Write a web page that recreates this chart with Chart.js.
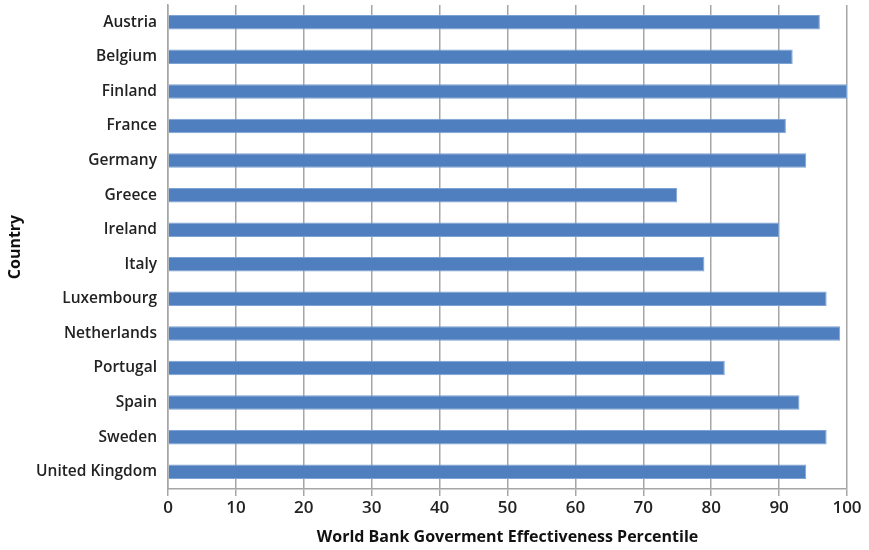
<!DOCTYPE html>
<html>
<head>
<meta charset="utf-8">
<script src="https://cdn.jsdelivr.net/npm/chart.js@4"></script>
<style>
  html, body { margin: 0; padding: 0; background: #ffffff; }
  #wrap { width: 869px; height: 550px; }
</style>
</head>
<body>
<div id="wrap"><canvas id="chart" width="869" height="550"></canvas></div>
<script>
// World Bank Government Effectiveness percentile by country
const countries = [
  'Austria', 'Belgium', 'Finland', 'France', 'Germany', 'Greece', 'Ireland',
  'Italy', 'Luxembourg', 'Netherlands', 'Portugal', 'Spain', 'Sweden', 'United Kingdom'
];
const effectiveness = [96, 92, 100, 91, 94, 75, 90, 79, 97, 99, 82, 93, 97, 94];
const xTicks = [0, 10, 20, 30, 40, 50, 60, 70, 80, 90, 100];

const FONT = '"Open Sans", "Liberation Sans", sans-serif';
const GRID = '#a6a6a6';

new Chart(document.getElementById('chart'), {
  type: 'bar',
  data: {
    labels: countries,
    datasets: [{
      data: effectiveness,
      backgroundColor: '#4f7fbe',
      borderColor: '#7da2d4',
      borderWidth: 1,
      borderSkipped: 'start',
      barPercentage: 0.84,
      categoryPercentage: 0.5
    }]
  },
  options: {
    indexAxis: 'y',
    responsive: false,
    animation: false,
    layout: { padding: { left: 0, right: 22, top: 5, bottom: 0 } },
    plugins: { legend: { display: false }, tooltip: { enabled: false } },
    scales: {
      x: {
        min: 0,
        max: 100,
        afterBuildTicks: (scale) => { scale.ticks = xTicks.map(v => ({ value: v })); },
        afterFit: (scale) => { scale.height = 61; },
        grid: { color: GRID, lineWidth: 1.5, tickLength: 7, drawTicks: true },
        border: { color: GRID, width: 1.5 },
        ticks: { color: '#222', padding: 2, font: { family: FONT, size: 17, weight: '600' } },
        title: {
          display: true,
          text: 'World Bank Goverment Effectiveness Percentile',
          color: '#111',
          padding: { top: 0, bottom: 3 },
          font: { family: FONT, size: 16, weight: 'bold' }
        }
      },
      y: {
        afterFit: (scale) => {
          scale.width = 168;
          // category labels sit inside their bands, so no extra room above/below
          scale.paddingTop = 0;
          scale.paddingBottom = 0;
        },
        grid: { display: false, drawTicks: false },
        border: { color: GRID, width: 1.5 },
        ticks: { color: '#222', padding: 11, font: { family: FONT, size: 15.5, weight: '600' } },
        title: {
          display: true,
          text: 'Country',
          color: '#111',
          padding: { top: 6, bottom: 0 },
          font: { family: FONT, size: 16, weight: 'bold' }
        }
      }
    }
  }
});
</script>
</body>
</html>
